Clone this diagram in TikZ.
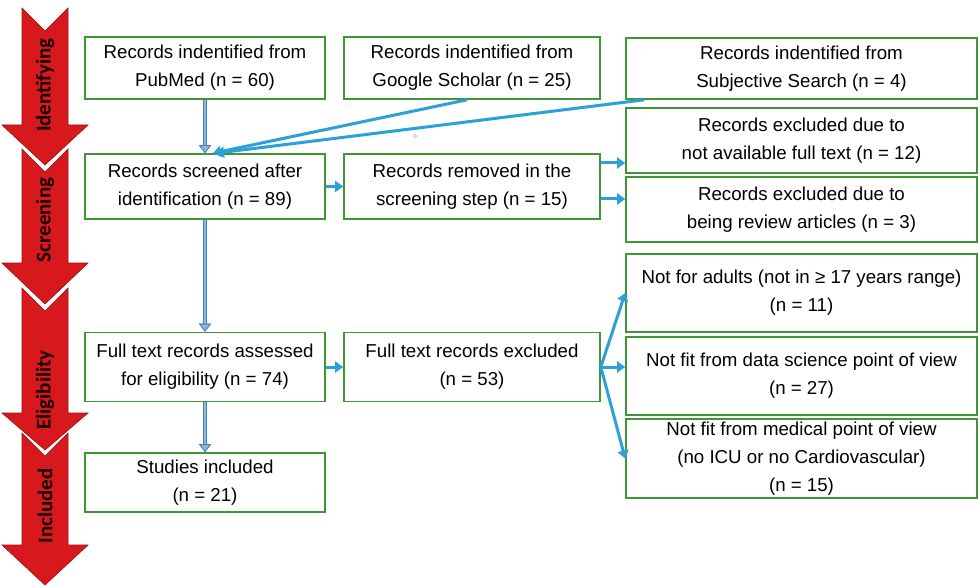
\documentclass[tikz,border=0pt]{standalone}
\usepackage{fontspec}
\setmainfont{Liberation Sans}
\newfontfamily\stagefont{Carlito}
\usetikzlibrary{arrows.meta}
\definecolor{boxgreen}{RGB}{62,150,52}
\definecolor{flowblue}{RGB}{45,160,215}
\definecolor{steeldark}{RGB}{75,130,180}
\definecolor{steellight}{RGB}{140,185,225}
\definecolor{stagered}{RGB}{215,25,30}
\tikzset{
  box/.style={draw=boxgreen, line width=1.6pt, fill=white, align=center, inner sep=1pt,
    font=\fontsize{18.7}{28}\selectfont},
  leftbox/.style={box, minimum width=240pt},
  midbox/.style={box, minimum width=256pt},
  rightbox/.style={box, minimum width=351pt},
  flow/.style={draw=flowblue, line width=3pt, -{Triangle[length=8pt,width=11pt]}},
  down/.style={draw=steellight, line width=2pt, preaction={draw=steeldark, line width=4pt},
    -{Triangle[length=8pt,width=12pt,color=steeldark,fill=steellight,line width=0.8pt]}},
  stage/.style={fill=stagered, draw=stagered!70!black, line width=0.6pt},
  stagelabel/.style={rotate=90, font=\stagefont\bfseries\fontsize{21}{21}\selectfont, text=black!90!red}
}
\begin{document}
\begin{tikzpicture}[x=1pt,y=-1pt]
  \fill[white] (0,0) rectangle (980,588);
  \useasboundingbox (0,0) rectangle (980,588);
  % stage arrows (top / wings / tip / label centre)
  \foreach \t/\w/\p/\c/\lab [count=\i] in {8/125/165/85/Identifying, 149/263/304/220/Screening,
      288/413/450/390/Eligibility, 433/545/585/506/Included}{
    \draw[stage] (22,\t) -- (45,\t+23) -- (68,\t) -- (68,\w) -- (88,\w) -- (45,\p)
      -- (2,\w) -- (22,\w) -- cycle;
    \node[stagelabel] (stage\i) at (45,\c) {\lab};
  }
  % identification
  \node[leftbox, minimum height=62pt] (pub) at (205,68) {Records indentified from\\PubMed (n = 60)};
  \node[midbox, minimum height=62pt] (gs) at (472,68) {Records indentified from\\Google Scholar (n = 25)};
  \node[rightbox, minimum height=61pt] (subj) at (801.5,68.5) {Records indentified from\\Subjective Search (n = 4)};
  % screening
  \node[leftbox, minimum height=65pt] (scr) at (205,186.5) {Records screened after\\identification (n = 89)};
  \node[midbox, minimum height=65pt] (rem) at (472,186.5) {Records removed in the\\screening step (n = 15)};
  \node[rightbox, minimum height=65pt] (exft) at (801.5,140.5) {Records excluded due to\\not available full text (n = 12)};
  \node[rightbox, minimum height=65pt] (exrev) at (801.5,209.5) {Records excluded due to\\being review articles (n = 3)};
  % eligibility
  \node[leftbox, minimum height=69pt] (ass) at (205,367) {Full text records assessed\\for eligibility (n = 74)};
  \node[midbox, minimum height=69pt] (ftex) at (472,367) {Full text records excluded\\(n = 53)};
  \node[rightbox, minimum height=78pt] (adult) at (801.5,293) {Not for adults (not in ≥ 17 years range)\\(n = 11)};
  \node[rightbox, minimum height=78pt] (ds) at (801.5,376) {Not fit from data science point of view\\(n = 27)};
  \node[rightbox, minimum height=79pt] (med) at (801.5,458.5) {Not fit from medical point of view\\(no ICU or no Cardiovascular)\\(n = 15)};
  % included
  \node[leftbox, minimum height=59pt] (inc) at (205,482.5) {Studies included\\(n = 21)};
  % connectors
  \draw[down] (pub) -- (scr);
  \draw[down] (scr) -- (ass);
  \draw[down] (ass) -- (inc);
  \draw[flow] ([xshift=-5pt]gs.south) -- ([xshift=8pt]scr.north);
  \draw[flow] ([xshift=19pt]subj.south west) -- ([xshift=11pt]scr.north);
  \draw[flow] (scr) -- (rem);
  \draw[flow] ([yshift=23.5pt]rem.east) -- ([yshift=23.5pt]rem.east -| exft.west);
  \draw[flow] ([yshift=-12.5pt]rem.east) -- ([yshift=-12.5pt]rem.east -| exrev.west);
  \draw[flow] (ass) -- (ftex);
  \draw[flow] (ftex.east) -- (adult.west);
  \draw[flow] (ftex.east) -- (ftex.east -| ds.west);
  \draw[flow] (ftex.east) -- (med.west);
  \draw[gray!60, line width=0.5pt] (415,136) circle (1.8pt);
\end{tikzpicture}
\end{document}
